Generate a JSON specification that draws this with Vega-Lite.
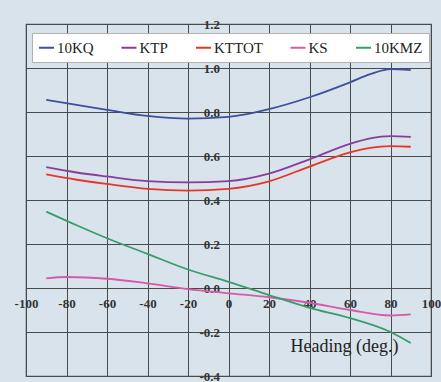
{
  "$schema": "https://vega.github.io/schema/vega-lite/v6.json",
  "width": 405,
  "height": 352,
  "autosize": {"type": "none"},
  "padding": {"left": 26, "top": 24, "right": 10, "bottom": 6},
  "background": "#d8e3eb",
  "config": {
    "view": {"stroke": "#555555", "strokeWidth": 1.2},
    "font": "Liberation Serif"
  },
  "data": {
    "values": [
      {"h": -90, "s": "10KQ", "v": 0.855}, {"h": -75, "s": "10KQ", "v": 0.832}, {"h": -60, "s": "10KQ", "v": 0.81}, {"h": -40, "s": "10KQ", "v": 0.782}, {"h": -20, "s": "10KQ", "v": 0.77}, {"h": 0, "s": "10KQ", "v": 0.778}, {"h": 20, "s": "10KQ", "v": 0.813}, {"h": 40, "s": "10KQ", "v": 0.867}, {"h": 60, "s": "10KQ", "v": 0.935}, {"h": 70, "s": "10KQ", "v": 0.972}, {"h": 80, "s": "10KQ", "v": 0.995}, {"h": 90, "s": "10KQ", "v": 0.99},
      {"h": -90, "s": "KTP", "v": 0.549}, {"h": -75, "s": "KTP", "v": 0.525}, {"h": -60, "s": "KTP", "v": 0.507}, {"h": -40, "s": "KTP", "v": 0.486}, {"h": -20, "s": "KTP", "v": 0.48}, {"h": 0, "s": "KTP", "v": 0.486}, {"h": 20, "s": "KTP", "v": 0.52}, {"h": 40, "s": "KTP", "v": 0.585}, {"h": 60, "s": "KTP", "v": 0.655}, {"h": 70, "s": "KTP", "v": 0.68}, {"h": 80, "s": "KTP", "v": 0.69}, {"h": 90, "s": "KTP", "v": 0.687},
      {"h": -90, "s": "KTTOT", "v": 0.516}, {"h": -75, "s": "KTTOT", "v": 0.492}, {"h": -60, "s": "KTTOT", "v": 0.473}, {"h": -40, "s": "KTTOT", "v": 0.451}, {"h": -20, "s": "KTTOT", "v": 0.443}, {"h": 0, "s": "KTTOT", "v": 0.451}, {"h": 20, "s": "KTTOT", "v": 0.485}, {"h": 40, "s": "KTTOT", "v": 0.552}, {"h": 60, "s": "KTTOT", "v": 0.617}, {"h": 70, "s": "KTTOT", "v": 0.637}, {"h": 80, "s": "KTTOT", "v": 0.645}, {"h": 90, "s": "KTTOT", "v": 0.642},
      {"h": -90, "s": "KS", "v": 0.044}, {"h": -80, "s": "KS", "v": 0.05}, {"h": -60, "s": "KS", "v": 0.042}, {"h": -40, "s": "KS", "v": 0.021}, {"h": -20, "s": "KS", "v": -0.005}, {"h": 0, "s": "KS", "v": -0.024}, {"h": 20, "s": "KS", "v": -0.042}, {"h": 40, "s": "KS", "v": -0.067}, {"h": 60, "s": "KS", "v": -0.1}, {"h": 80, "s": "KS", "v": -0.125}, {"h": 90, "s": "KS", "v": -0.12},
      {"h": -90, "s": "10KMZ", "v": 0.347}, {"h": -75, "s": "10KMZ", "v": 0.285}, {"h": -60, "s": "10KMZ", "v": 0.226}, {"h": -40, "s": "10KMZ", "v": 0.155}, {"h": -20, "s": "10KMZ", "v": 0.084}, {"h": 0, "s": "10KMZ", "v": 0.028}, {"h": 20, "s": "10KMZ", "v": -0.032}, {"h": 40, "s": "10KMZ", "v": -0.09}, {"h": 60, "s": "10KMZ", "v": -0.137}, {"h": 80, "s": "10KMZ", "v": -0.2}, {"h": 90, "s": "10KMZ", "v": -0.25}
    ]
  },
  "mark": {"type": "line", "interpolate": "monotone", "strokeWidth": 1.8},
  "encoding": {
    "x": {
      "field": "h", "type": "quantitative",
      "scale": {"domain": [-100, 100], "nice": false, "zero": false},
      "axis": {
        "orient": "bottom", "offset": -88,
        "values": [-100, -80, -60, -40, -20, 0, 20, 40, 60, 80, 100],
        "labelExpr": "(datum.value < 0 ? '-' : '') + format(abs(datum.value), 'd')",
        "grid": true, "gridColor": "#4a4a4a", "gridOpacity": 1, "gridWidth": 1,
        "domain": false, "ticks": false,
        "labelFont": "Liberation Serif", "labelFontSize": 13, "labelFontWeight": "bold", "labelColor": "#333333",
        "labelPadding": 9, "labelFlush": false,
        "title": "Heading (deg.)", "titleFont": "Liberation Serif", "titleFontSize": 18, "titleFontWeight": "normal", "titleColor": "#222222",
        "titleAlign": "right", "titleAnchor": "end", "titleX": 372, "titleY": 49
      }
    },
    "y": {
      "field": "v", "type": "quantitative",
      "scale": {"domain": [-0.4, 1.2], "nice": false, "zero": false},
      "axis": {
        "orient": "left", "offset": -202.5,
        "values": [-0.4, -0.2, 0, 0.2, 0.4, 0.6, 0.8, 1.0, 1.2],
        "labelExpr": "(datum.value < -0.01 ? '-' : '') + format(abs(datum.value), '.1f')",
        "grid": true, "gridColor": "#4a4a4a", "gridOpacity": 1, "gridWidth": 1,
        "domain": false, "ticks": false,
        "labelFont": "Liberation Serif", "labelFontSize": 13, "labelFontWeight": "bold", "labelColor": "#333333",
        "labelPadding": 9, "labelFlush": false,
        "title": null
      }
    },
    "color": {
      "field": "s", "type": "nominal",
      "scale": {
        "domain": ["10KQ", "KTP", "KTTOT", "KS", "10KMZ"],
        "range": ["#3d4f9f", "#8a3c9c", "#e8352a", "#d65aa8", "#3a9c6c"]
      },
      "legend": {
        "title": null, "orient": "none", "direction": "horizontal",
        "legendX": 6, "legendY": 9,
        "fillColor": "#ffffff", "strokeColor": "#b0b0b0",
        "padding": 6,
        "symbolType": "stroke", "symbolSize": 225, "symbolStrokeWidth": 2,
        "labelFont": "Liberation Serif", "labelFontSize": 15, "labelFontWeight": "normal", "labelColor": "#222222",
        "labelOffset": 2, "columnPadding": 23.5
      }
    }
  }
}
